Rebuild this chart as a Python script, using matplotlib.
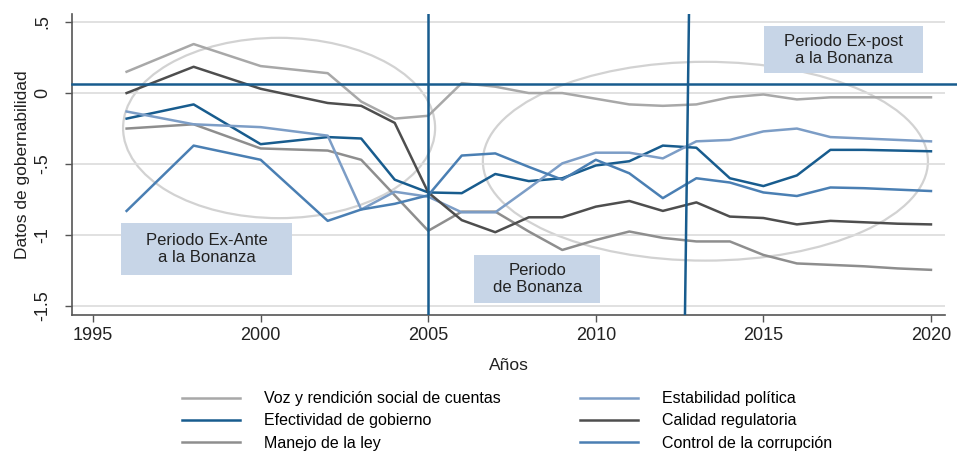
import matplotlib
matplotlib.use("Agg")
import matplotlib.pyplot as plt
from matplotlib.patches import Ellipse, Rectangle

plt.rcParams['font.family'] = ['Liberation Sans', 'DejaVu Sans']

years = [1996, 1998, 2000, 2002, 2003, 2004, 2005, 2006, 2007, 2008, 2009, 2010,
         2011, 2012, 2013, 2014, 2015, 2016, 2017, 2018, 2019, 2020]

voz = [0.15, 0.345, 0.19, 0.14, -0.06, -0.18, -0.16, 0.07, 0.045, 0.0, 0.0, -0.04,
       -0.08, -0.09, -0.08, -0.03, -0.01, -0.045, -0.03, -0.03, -0.03, -0.03]
efectividad = [-0.18, -0.08, -0.36, -0.31, -0.32, -0.61, -0.70, -0.705, -0.57, -0.62, -0.60, -0.51,
               -0.48, -0.37, -0.385, -0.60, -0.655, -0.58, -0.40, -0.40, -0.405, -0.41]
manejo = [-0.25, -0.22, -0.39, -0.405, -0.47, -0.72, -0.97, -0.835, -0.835, -0.975, -1.105, -1.035,
          -0.975, -1.02, -1.045, -1.045, -1.14, -1.20, -1.21, -1.22, -1.235, -1.245]
estabilidad = [-0.13, -0.22, -0.24, -0.30, -0.82, -0.695, -0.73, -0.84, -0.84, -0.67, -0.495, -0.42,
               -0.42, -0.46, -0.34, -0.33, -0.27, -0.25, -0.31, -0.32, -0.33, -0.34]
calidad = [0.0, 0.185, 0.03, -0.07, -0.09, -0.21, -0.70, -0.895, -0.98, -0.875, -0.875, -0.80,
           -0.76, -0.83, -0.77, -0.87, -0.88, -0.925, -0.90, -0.91, -0.92, -0.925]
control = [-0.83, -0.37, -0.47, -0.90, -0.82, -0.78, -0.72, -0.44, -0.425, -0.52, -0.61, -0.47,
           -0.565, -0.74, -0.60, -0.63, -0.70, -0.725, -0.665, -0.67, -0.68, -0.69]

series_names = ["Voz y rendición social de cuentas", "Efectividad de gobierno", "Manejo de la ley",
                "Estabilidad política", "Calidad regulatoria", "Control de la corrupción"]
series_values = [voz, efectividad, manejo, estabilidad, calidad, control]
series_colors = ["#a8a8a8", "#185c8e", "#8e8e8e", "#7c9dc6", "#4e4e4e", "#4a7fb3"]

yticks = [0.5, 0, -0.5, -1, -1.5]
ytick_labels = [".5", "0", "-.5", "-1", "-1.5"]
xticks = [1995, 2000, 2005, 2010, 2015, 2020]

ref_y = 0.063
ref_x1 = 2005
ref_x2_top, ref_x2_bottom = 2012.78, 2012.66

boxes = [("Periodo Ex-Ante\na la Bonanza", 1995.84, -1.28, 5.10, 0.365),
         ("Periodo\nde Bonanza", 2006.37, -1.48, 3.76, 0.34),
         ("Periodo Ex-post\na la Bonanza", 2015.02, 0.14, 4.74, 0.33)]
ellipses = [(2000.55, -0.246, 9.31, 1.27), (2013.27, -0.48, 13.28, 1.40)]

fig = plt.figure(figsize=(9.57, 4.55), dpi=100)
ax = fig.add_axes([0.0752, 0.3077, 0.9123, 0.6613])
xlim = (1994.37, 2020.42)
ylim = (-1.563, 0.556)
ax.set_xlim(*xlim)
ax.set_ylim(*ylim)

ax.set_yticks(yticks)
ax.set_yticklabels(ytick_labels, rotation=90, va='center')
ax.set_xticks(xticks)
ax.grid(axis='y', color='#dcdcdc', lw=1.2, zorder=0)
ax.tick_params(axis='both', labelsize=13, color='#555555', length=5, width=1, labelcolor='#222222')
ax.tick_params(axis='y', pad=10)
for s in ['top', 'right']:
    ax.spines[s].set_visible(False)
for s in ['left', 'bottom']:
    ax.spines[s].set_color('#555555')
    ax.spines[s].set_linewidth(1.2)

for (cx, cy, w, h) in ellipses:
    ax.add_patch(Ellipse((cx, cy), w, h, fill=False, ec='#d2d2d2', lw=1.6, zorder=1))

lines = []
for name, vals, col in zip(series_names, series_values, series_colors):
    l, = ax.plot(years, vals, color=col, lw=1.8, label=name, zorder=3)
    lines.append(l)

ax.axhline(ref_y, xmin=0, xmax=1.015, color='#185c8e', lw=1.8, zorder=4, clip_on=False)
ax.axvline(ref_x1, color='#185c8e', lw=1.8, zorder=4)
ax.plot([ref_x2_top, ref_x2_bottom], [ylim[1], ylim[0]], color='#185c8e', lw=1.8, zorder=4)

for (txt, x0, y0, w, h) in boxes:
    ax.add_patch(Rectangle((x0, y0), w, h, fc='#c7d5e7', ec='none', zorder=5))
    ax.text(x0 + w / 2, y0 + h / 2, txt, ha='center', va='center', fontsize=12,
            color='#222222', zorder=6, linespacing=1.2)

ax.set_xlabel("Años", fontsize=12.5, color='#222222', labelpad=10)
ax.set_ylabel("Datos de gobernabilidad", fontsize=12.5, color='#222222', labelpad=3)

fig.legend(handles=lines, loc='lower center', bbox_to_anchor=(0.53, -0.022), ncol=2,
           frameon=False, fontsize=11.5, handlelength=3.6, columnspacing=5.0,
           labelspacing=0.45, handletextpad=1.5)

fig.savefig("out.png", dpi=100)
